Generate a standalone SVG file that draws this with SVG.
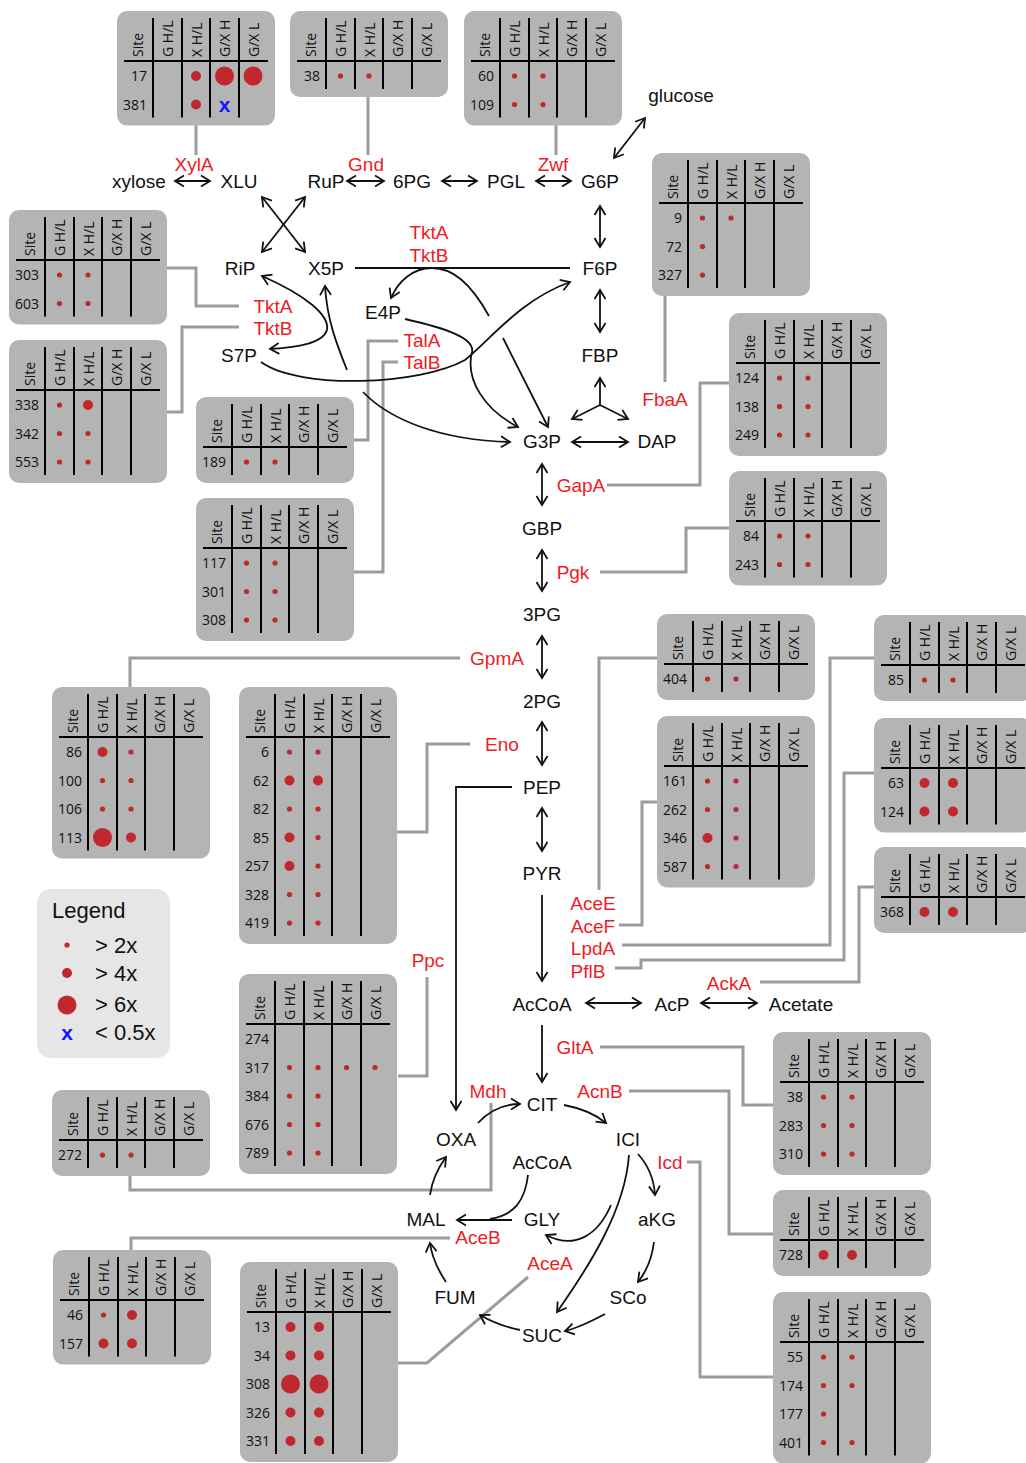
<svg xmlns="http://www.w3.org/2000/svg" width="1026" height="1463" viewBox="0 0 1026 1463">
<style>
.tb{fill:#b4b4b4}
.gl{stroke:#000;stroke-width:2;fill:none}
.th{font-family:"Open Sans",sans-serif;font-size:14px;fill:#111}
.tn{font-family:"Open Sans",sans-serif;font-size:14px;fill:#111;text-anchor:end}
.dot{fill:#c0282d}
.bx{font-family:"Liberation Sans",Arial,sans-serif;font-size:21px;font-weight:bold;fill:#1515ff;text-anchor:middle}
.m{font-family:"Liberation Sans",Arial,sans-serif;font-size:19px;fill:#111;text-anchor:middle}
.e{font-family:"Liberation Sans",Arial,sans-serif;font-size:19px;fill:#ee1c24;text-anchor:middle}
.lg{font-family:"Liberation Sans",Arial,sans-serif;font-size:22px;fill:#111}
.ln{stroke:#111;stroke-width:1.8;fill:none}
.ar{marker-end:url(#ah)}
.ab{marker-start:url(#ah);marker-end:url(#ah)}
.cn{stroke:#9c9c9c;stroke-width:3;fill:none}
</style>
<defs>
<marker id="ah" viewBox="-12 -8 14 16" refX="0" refY="0" markerWidth="14" markerHeight="16" orient="auto-start-reverse" markerUnits="userSpaceOnUse" overflow="visible">
<path d="M-9,-5.5L0,0L-9,5.5" fill="none" stroke="#111" stroke-width="1.8"/>
</marker>
</defs>
<rect width="1026" height="1463" fill="#fff"/>

<!-- connectors -->
<g id="connectors">
<g id="gray-links">
<path class="cn" d="M196,125V155"/>
<path class="cn" d="M368,97V155"/>
<path class="cn" d="M556,125V155"/>
<path class="cn" d="M665,296V382"/>
<path class="cn" d="M167,268H196V306H239"/>
<path class="cn" d="M167,412H182V327H239"/>
<path class="cn" d="M354,440H368V341H398"/>
<path class="cn" d="M354,572H383V362H398"/>
<path class="cn" d="M607,485H700V383H729"/>
<path class="cn" d="M600,572H686V528H729"/>
<path class="cn" d="M460,658H130V687"/>
<path class="cn" d="M470,744H427V832H397"/>
<path class="cn" d="M599,890V658H657"/>
<path class="cn" d="M619,925H642V802H657"/>
<path class="cn" d="M622,945H830V658H874"/>
<path class="cn" d="M615,968H641V960H844V773H874"/>
<path class="cn" d="M760,982H859V887H874"/>
<path class="cn" d="M427,977V1076H398"/>
<path class="cn" d="M600,1047H743V1105H773"/>
<path class="cn" d="M629,1091H729V1234H773"/>
<path class="cn" d="M491,1103V1190H130V1176"/>
<path class="cn" d="M687,1162H700V1377H773"/>
<path class="cn" d="M450,1238H131V1250"/>
<path class="cn" d="M528,1277L427,1363H398"/>
</g>
<g id="reactions">
<path class="ln ab" d="M175,181H210"/>
<path class="ln ab" d="M347,181H384"/>
<path class="ln ab" d="M442,181H477"/>
<path class="ln ab" d="M536,181H571"/>
<path class="ln ab" d="M614,158L645,118"/>
<path class="ln ab" d="M262,197L305,252"/>
<path class="ln ab" d="M305,197L262,252"/>
<path class="ln ab" d="M600,206V247"/>
<path class="ln ab" d="M600,290V332"/>
<path class="ln" d="M355,268H570"/>
<path class="ln ab" d="M262,276C305,295 330,315 327,330C323,343 300,347 270,349"/>
<path class="ln ar" d="M347,370C337,345 327,320 325,286"/>
<path class="ln ar" d="M489,316C470,282 452,268 432,268C412,268 398,282 391,298"/>
<path class="ln ar" d="M503,338L548,427"/>
<path class="ln ar" d="M405,319C445,328 475,338 472,352C465,380 485,410 518,427"/>
<path class="ln ar" d="M261,362C300,390 420,385 465,360C490,340 520,300 570,282"/>
<path class="ln ar" d="M363,392C390,420 440,440 510,442"/>
<path class="ln ar" d="M600,405V378"/>
<path class="ln ar" d="M600,405L572,419"/>
<path class="ln ar" d="M600,405L628,419"/>
<path class="ln ab" d="M572,442H628"/>
<path class="ln ab" d="M542,464V505"/>
<path class="ln ab" d="M542,550V591"/>
<path class="ln ab" d="M542,636V678"/>
<path class="ln ab" d="M542,722V765"/>
<path class="ln ab" d="M542,808V851"/>
<path class="ln ar" d="M542,895V981"/>
<path class="ln ar" d="M512,787H456V1110"/>
<path class="ln ab" d="M586,1003H641"/>
<path class="ln ab" d="M701,1003H757"/>
<path class="ln ar" d="M542,1025V1082"/>
<path class="ln ar" d="M478,1123C490,1110 505,1104 520,1104"/>
<path class="ln ar" d="M564,1105C580,1108 595,1114 606,1123"/>
<path class="ln ar" d="M638,1154C648,1165 654,1180 655,1195"/>
<path class="ln ar" d="M654,1242C652,1258 646,1272 638,1282"/>
<path class="ln ar" d="M605,1314C590,1322 578,1328 565,1331"/>
<path class="ln ar" d="M520,1330C505,1327 492,1322 480,1315"/>
<path class="ln ar" d="M446,1282C438,1270 432,1258 430,1243"/>
<path class="ln ar" d="M430,1195C432,1180 438,1168 446,1157"/>
<path class="ln ar" d="M629,1155C625,1210 590,1265 557,1312"/>
<path class="ln ar" d="M611,1205C598,1235 575,1250 546,1235"/>
<path class="ln" d="M528,1175C525,1200 515,1215 490,1219"/>
<path class="ln ar" d="M512,1220H457"/>
</g>
</g>

<!-- metabolites -->
<g id="metabolites">
<text class="m" x="139" y="188">xylose</text>
<text class="m" x="239" y="188">XLU</text>
<text class="m" x="326" y="188">RuP</text>
<text class="m" x="412" y="188">6PG</text>
<text class="m" x="506" y="188">PGL</text>
<text class="m" x="600" y="188">G6P</text>
<text class="m" x="681" y="102">glucose</text>
<text class="m" x="240" y="275">RiP</text>
<text class="m" x="326" y="275">X5P</text>
<text class="m" x="600" y="275">F6P</text>
<text class="m" x="383" y="319">E4P</text>
<text class="m" x="239" y="362">S7P</text>
<text class="m" x="600" y="362">FBP</text>
<text class="m" x="542" y="448">G3P</text>
<text class="m" x="657" y="448">DAP</text>
<text class="m" x="542" y="535">GBP</text>
<text class="m" x="542" y="621">3PG</text>
<text class="m" x="542" y="708">2PG</text>
<text class="m" x="542" y="794">PEP</text>
<text class="m" x="542" y="880">PYR</text>
<text class="m" x="542" y="1011">AcCoA</text>
<text class="m" x="672" y="1011">AcP</text>
<text class="m" x="801" y="1011">Acetate</text>
<text class="m" x="542" y="1111">CIT</text>
<text class="m" x="456" y="1146">OXA</text>
<text class="m" x="628" y="1146">ICI</text>
<text class="m" x="542" y="1169">AcCoA</text>
<text class="m" x="426" y="1226">MAL</text>
<text class="m" x="542" y="1226">GLY</text>
<text class="m" x="657" y="1226">aKG</text>
<text class="m" x="455" y="1304">FUM</text>
<text class="m" x="628" y="1304">SCo</text>
<text class="m" x="542" y="1342">SUC</text>
</g>

<!-- enzymes -->
<g id="enzymes">
<text class="e" x="194" y="171">XylA</text>
<text class="e" x="366" y="171">Gnd</text>
<text class="e" x="553" y="171">Zwf</text>
<text class="e" x="429" y="239">TktA</text>
<text class="e" x="429" y="262">TktB</text>
<text class="e" x="273" y="313">TktA</text>
<text class="e" x="273" y="335">TktB</text>
<text class="e" x="422" y="347">TalA</text>
<text class="e" x="422" y="369">TalB</text>
<text class="e" x="665" y="406">FbaA</text>
<text class="e" x="581" y="492">GapA</text>
<text class="e" x="573" y="579">Pgk</text>
<text class="e" x="497" y="665">GpmA</text>
<text class="e" x="502" y="751">Eno</text>
<text class="e" x="593" y="910">AceE</text>
<text class="e" x="593" y="933">AceF</text>
<text class="e" x="593" y="955">LpdA</text>
<text class="e" x="588" y="978">PflB</text>
<text class="e" x="729" y="990">AckA</text>
<text class="e" x="428" y="967">Ppc</text>
<text class="e" x="575" y="1054">GltA</text>
<text class="e" x="600" y="1098">AcnB</text>
<text class="e" x="488" y="1098">Mdh</text>
<text class="e" x="670" y="1169">Icd</text>
<text class="e" x="478" y="1244">AceB</text>
<text class="e" x="550" y="1270">AceA</text>
</g>

<!-- legend -->
<g id="legend">
<rect x="37" y="889" width="133" height="169" rx="14" fill="#e6e6e6"/>
<text class="lg" x="52" y="918">Legend</text>
<circle class="dot" cx="67" cy="945" r="2.6"/>
<circle class="dot" cx="67" cy="973" r="5"/>
<circle class="dot" cx="67" cy="1005" r="9.5"/>
<text class="bx" x="67" y="1040">x</text>
<text class="lg" x="95" y="953">&gt; 2x</text>
<text class="lg" x="95" y="981">&gt; 4x</text>
<text class="lg" x="95" y="1012">&gt; 6x</text>
<text class="lg" x="95" y="1040">&lt; 0.5x</text>
</g>

<!-- tables -->
<g id="t-xyla" transform="translate(117,11)">
<rect class="tb" width="158" height="114.5" rx="10"/>
<path class="gl" d="M7,50H151M36,7V106.5M65,7V106.5M93,7V106.5M122,7V106.5"/>
<text class="th" transform="translate(26,46) rotate(-90)">Site</text><text class="th" transform="translate(56,46) rotate(-90)">G H/L</text><text class="th" transform="translate(84.5,46) rotate(-90)">X H/L</text><text class="th" transform="translate(113,46) rotate(-90)">G/X H</text><text class="th" transform="translate(141.5,46) rotate(-90)">G/X L</text>
<text class="tn" x="30" y="70">17</text><text class="tn" x="30" y="98.5">381</text>
<circle class="dot" cx="79" cy="65" r="5"/><circle class="dot" cx="107.5" cy="65" r="9.5"/><circle class="dot" cx="136" cy="65" r="9.5"/>
<circle class="dot" cx="79" cy="93.5" r="5"/><text class="bx" x="107.5" y="100.5">x</text>
</g>

<g id="t-gnd" transform="translate(290,11)">
<rect class="tb" width="158" height="86" rx="10"/>
<path class="gl" d="M7,50H151M36,7V78M65,7V78M93,7V78M122,7V78"/>
<text class="th" transform="translate(26,46) rotate(-90)">Site</text><text class="th" transform="translate(56,46) rotate(-90)">G H/L</text><text class="th" transform="translate(84.5,46) rotate(-90)">X H/L</text><text class="th" transform="translate(113,46) rotate(-90)">G/X H</text><text class="th" transform="translate(141.5,46) rotate(-90)">G/X L</text>
<text class="tn" x="30" y="70">38</text>
<circle class="dot" cx="50.5" cy="65" r="2.6"/><circle class="dot" cx="79" cy="65" r="2.6"/>
</g>

<g id="t-zwf" transform="translate(464,11)">
<rect class="tb" width="158" height="114.5" rx="10"/>
<path class="gl" d="M7,50H151M36,7V106.5M65,7V106.5M93,7V106.5M122,7V106.5"/>
<text class="th" transform="translate(26,46) rotate(-90)">Site</text><text class="th" transform="translate(56,46) rotate(-90)">G H/L</text><text class="th" transform="translate(84.5,46) rotate(-90)">X H/L</text><text class="th" transform="translate(113,46) rotate(-90)">G/X H</text><text class="th" transform="translate(141.5,46) rotate(-90)">G/X L</text>
<text class="tn" x="30" y="70">60</text><text class="tn" x="30" y="98.5">109</text>
<circle class="dot" cx="50.5" cy="65" r="2.6"/><circle class="dot" cx="79" cy="65" r="2.6"/>
<circle class="dot" cx="50.5" cy="93.5" r="2.6"/><circle class="dot" cx="79" cy="93.5" r="2.6"/>
</g>

<g id="t-fbaa" transform="translate(652,153)">
<rect class="tb" width="158" height="143" rx="10"/>
<path class="gl" d="M7,50H151M36,7V135M65,7V135M93,7V135M122,7V135"/>
<text class="th" transform="translate(26,46) rotate(-90)">Site</text><text class="th" transform="translate(56,46) rotate(-90)">G H/L</text><text class="th" transform="translate(84.5,46) rotate(-90)">X H/L</text><text class="th" transform="translate(113,46) rotate(-90)">G/X H</text><text class="th" transform="translate(141.5,46) rotate(-90)">G/X L</text>
<text class="tn" x="30" y="70">9</text><text class="tn" x="30" y="98.5">72</text><text class="tn" x="30" y="127">327</text>
<circle class="dot" cx="50.5" cy="65" r="2.6"/><circle class="dot" cx="79" cy="65" r="2.6"/>
<circle class="dot" cx="50.5" cy="93.5" r="2.6"/>
<circle class="dot" cx="50.5" cy="122" r="2.6"/>
</g>

<g id="t-tkt1" transform="translate(9,210)">
<rect class="tb" width="158" height="114.5" rx="10"/>
<path class="gl" d="M7,50H151M36,7V106.5M65,7V106.5M93,7V106.5M122,7V106.5"/>
<text class="th" transform="translate(26,46) rotate(-90)">Site</text><text class="th" transform="translate(56,46) rotate(-90)">G H/L</text><text class="th" transform="translate(84.5,46) rotate(-90)">X H/L</text><text class="th" transform="translate(113,46) rotate(-90)">G/X H</text><text class="th" transform="translate(141.5,46) rotate(-90)">G/X L</text>
<text class="tn" x="30" y="70">303</text><text class="tn" x="30" y="98.5">603</text>
<circle class="dot" cx="50.5" cy="65" r="2.6"/><circle class="dot" cx="79" cy="65" r="2.6"/>
<circle class="dot" cx="50.5" cy="93.5" r="2.6"/><circle class="dot" cx="79" cy="93.5" r="2.6"/>
</g>

<g id="t-tkt2" transform="translate(9,340)">
<rect class="tb" width="158" height="143" rx="10"/>
<path class="gl" d="M7,50H151M36,7V135M65,7V135M93,7V135M122,7V135"/>
<text class="th" transform="translate(26,46) rotate(-90)">Site</text><text class="th" transform="translate(56,46) rotate(-90)">G H/L</text><text class="th" transform="translate(84.5,46) rotate(-90)">X H/L</text><text class="th" transform="translate(113,46) rotate(-90)">G/X H</text><text class="th" transform="translate(141.5,46) rotate(-90)">G/X L</text>
<text class="tn" x="30" y="70">338</text><text class="tn" x="30" y="98.5">342</text><text class="tn" x="30" y="127">553</text>
<circle class="dot" cx="50.5" cy="65" r="2.6"/><circle class="dot" cx="79" cy="65" r="5"/>
<circle class="dot" cx="50.5" cy="93.5" r="2.6"/><circle class="dot" cx="79" cy="93.5" r="2.6"/>
<circle class="dot" cx="50.5" cy="122" r="2.6"/><circle class="dot" cx="79" cy="122" r="2.6"/>
</g>

<g id="t-tal1" transform="translate(196,397)">
<rect class="tb" width="158" height="86" rx="10"/>
<path class="gl" d="M7,50H151M36,7V78M65,7V78M93,7V78M122,7V78"/>
<text class="th" transform="translate(26,46) rotate(-90)">Site</text><text class="th" transform="translate(56,46) rotate(-90)">G H/L</text><text class="th" transform="translate(84.5,46) rotate(-90)">X H/L</text><text class="th" transform="translate(113,46) rotate(-90)">G/X H</text><text class="th" transform="translate(141.5,46) rotate(-90)">G/X L</text>
<text class="tn" x="30" y="70">189</text>
<circle class="dot" cx="50.5" cy="65" r="2.6"/><circle class="dot" cx="79" cy="65" r="2.6"/>
</g>

<g id="t-tal2" transform="translate(196,498)">
<rect class="tb" width="158" height="143" rx="10"/>
<path class="gl" d="M7,50H151M36,7V135M65,7V135M93,7V135M122,7V135"/>
<text class="th" transform="translate(26,46) rotate(-90)">Site</text><text class="th" transform="translate(56,46) rotate(-90)">G H/L</text><text class="th" transform="translate(84.5,46) rotate(-90)">X H/L</text><text class="th" transform="translate(113,46) rotate(-90)">G/X H</text><text class="th" transform="translate(141.5,46) rotate(-90)">G/X L</text>
<text class="tn" x="30" y="70">117</text><text class="tn" x="30" y="98.5">301</text><text class="tn" x="30" y="127">308</text>
<circle class="dot" cx="50.5" cy="65" r="2.6"/><circle class="dot" cx="79" cy="65" r="2.6"/>
<circle class="dot" cx="50.5" cy="93.5" r="2.6"/><circle class="dot" cx="79" cy="93.5" r="2.6"/>
<circle class="dot" cx="50.5" cy="122" r="2.6"/><circle class="dot" cx="79" cy="122" r="2.6"/>
</g>

<g id="t-gapa" transform="translate(729,313)">
<rect class="tb" width="158" height="143" rx="10"/>
<path class="gl" d="M7,50H151M36,7V135M65,7V135M93,7V135M122,7V135"/>
<text class="th" transform="translate(26,46) rotate(-90)">Site</text><text class="th" transform="translate(56,46) rotate(-90)">G H/L</text><text class="th" transform="translate(84.5,46) rotate(-90)">X H/L</text><text class="th" transform="translate(113,46) rotate(-90)">G/X H</text><text class="th" transform="translate(141.5,46) rotate(-90)">G/X L</text>
<text class="tn" x="30" y="70">124</text><text class="tn" x="30" y="98.5">138</text><text class="tn" x="30" y="127">249</text>
<circle class="dot" cx="50.5" cy="65" r="2.6"/><circle class="dot" cx="79" cy="65" r="2.6"/>
<circle class="dot" cx="50.5" cy="93.5" r="2.6"/><circle class="dot" cx="79" cy="93.5" r="2.6"/>
<circle class="dot" cx="50.5" cy="122" r="2.6"/><circle class="dot" cx="79" cy="122" r="2.6"/>
</g>

<g id="t-pgk" transform="translate(729,471)">
<rect class="tb" width="158" height="114.5" rx="10"/>
<path class="gl" d="M7,50H151M36,7V106.5M65,7V106.5M93,7V106.5M122,7V106.5"/>
<text class="th" transform="translate(26,46) rotate(-90)">Site</text><text class="th" transform="translate(56,46) rotate(-90)">G H/L</text><text class="th" transform="translate(84.5,46) rotate(-90)">X H/L</text><text class="th" transform="translate(113,46) rotate(-90)">G/X H</text><text class="th" transform="translate(141.5,46) rotate(-90)">G/X L</text>
<text class="tn" x="30" y="70">84</text><text class="tn" x="30" y="98.5">243</text>
<circle class="dot" cx="50.5" cy="65" r="2.6"/><circle class="dot" cx="79" cy="65" r="2.6"/>
<circle class="dot" cx="50.5" cy="93.5" r="2.6"/><circle class="dot" cx="79" cy="93.5" r="2.6"/>
</g>

<g id="t-gpma" transform="translate(52,687)">
<rect class="tb" width="158" height="171.5" rx="10"/>
<path class="gl" d="M7,50H151M36,7V163.5M65,7V163.5M93,7V163.5M122,7V163.5"/>
<text class="th" transform="translate(26,46) rotate(-90)">Site</text><text class="th" transform="translate(56,46) rotate(-90)">G H/L</text><text class="th" transform="translate(84.5,46) rotate(-90)">X H/L</text><text class="th" transform="translate(113,46) rotate(-90)">G/X H</text><text class="th" transform="translate(141.5,46) rotate(-90)">G/X L</text>
<text class="tn" x="30" y="70">86</text><text class="tn" x="30" y="98.5">100</text><text class="tn" x="30" y="127">106</text><text class="tn" x="30" y="155.5">113</text>
<circle class="dot" cx="50.5" cy="65" r="5"/><circle class="dot" cx="79" cy="65" r="2.6"/>
<circle class="dot" cx="50.5" cy="93.5" r="2.6"/><circle class="dot" cx="79" cy="93.5" r="2.6"/>
<circle class="dot" cx="50.5" cy="122" r="2.6"/><circle class="dot" cx="79" cy="122" r="2.6"/>
<circle class="dot" cx="50.5" cy="150.5" r="9.5"/><circle class="dot" cx="79" cy="150.5" r="5"/>
</g>

<g id="t-eno" transform="translate(239,687)">
<rect class="tb" width="158" height="257" rx="10"/>
<path class="gl" d="M7,50H151M36,7V249M65,7V249M93,7V249M122,7V249"/>
<text class="th" transform="translate(26,46) rotate(-90)">Site</text><text class="th" transform="translate(56,46) rotate(-90)">G H/L</text><text class="th" transform="translate(84.5,46) rotate(-90)">X H/L</text><text class="th" transform="translate(113,46) rotate(-90)">G/X H</text><text class="th" transform="translate(141.5,46) rotate(-90)">G/X L</text>
<text class="tn" x="30" y="70">6</text><text class="tn" x="30" y="98.5">62</text><text class="tn" x="30" y="127">82</text><text class="tn" x="30" y="155.5">85</text><text class="tn" x="30" y="184">257</text><text class="tn" x="30" y="212.5">328</text><text class="tn" x="30" y="241">419</text>
<circle class="dot" cx="50.5" cy="65" r="2.6"/><circle class="dot" cx="79" cy="65" r="2.6"/>
<circle class="dot" cx="50.5" cy="93.5" r="5"/><circle class="dot" cx="79" cy="93.5" r="5"/>
<circle class="dot" cx="50.5" cy="122" r="2.6"/><circle class="dot" cx="79" cy="122" r="2.6"/>
<circle class="dot" cx="50.5" cy="150.5" r="5"/><circle class="dot" cx="79" cy="150.5" r="2.6"/>
<circle class="dot" cx="50.5" cy="179" r="5"/><circle class="dot" cx="79" cy="179" r="2.6"/>
<circle class="dot" cx="50.5" cy="207.5" r="2.6"/><circle class="dot" cx="79" cy="207.5" r="2.6"/>
<circle class="dot" cx="50.5" cy="236" r="2.6"/><circle class="dot" cx="79" cy="236" r="2.6"/>
</g>

<g id="t-acee" transform="translate(657,614)">
<rect class="tb" width="158" height="86" rx="10"/>
<path class="gl" d="M7,50H151M36,7V78M65,7V78M93,7V78M122,7V78"/>
<text class="th" transform="translate(26,46) rotate(-90)">Site</text><text class="th" transform="translate(56,46) rotate(-90)">G H/L</text><text class="th" transform="translate(84.5,46) rotate(-90)">X H/L</text><text class="th" transform="translate(113,46) rotate(-90)">G/X H</text><text class="th" transform="translate(141.5,46) rotate(-90)">G/X L</text>
<text class="tn" x="30" y="70">404</text>
<circle class="dot" cx="50.5" cy="65" r="2.6"/><circle class="dot" cx="79" cy="65" r="2.6"/>
</g>

<g id="t-acef" transform="translate(657,716)">
<rect class="tb" width="158" height="171.5" rx="10"/>
<path class="gl" d="M7,50H151M36,7V163.5M65,7V163.5M93,7V163.5M122,7V163.5"/>
<text class="th" transform="translate(26,46) rotate(-90)">Site</text><text class="th" transform="translate(56,46) rotate(-90)">G H/L</text><text class="th" transform="translate(84.5,46) rotate(-90)">X H/L</text><text class="th" transform="translate(113,46) rotate(-90)">G/X H</text><text class="th" transform="translate(141.5,46) rotate(-90)">G/X L</text>
<text class="tn" x="30" y="70">161</text><text class="tn" x="30" y="98.5">262</text><text class="tn" x="30" y="127">346</text><text class="tn" x="30" y="155.5">587</text>
<circle class="dot" cx="50.5" cy="65" r="2.6"/><circle class="dot" cx="79" cy="65" r="2.6"/>
<circle class="dot" cx="50.5" cy="93.5" r="2.6"/><circle class="dot" cx="79" cy="93.5" r="2.6"/>
<circle class="dot" cx="50.5" cy="122" r="5"/><circle class="dot" cx="79" cy="122" r="2.6"/>
<circle class="dot" cx="50.5" cy="150.5" r="2.6"/><circle class="dot" cx="79" cy="150.5" r="2.6"/>
</g>

<g id="t-lpda" transform="translate(874,615)">
<rect class="tb" width="158" height="86" rx="10"/>
<path class="gl" d="M7,50H151M36,7V78M65,7V78M93,7V78M122,7V78"/>
<text class="th" transform="translate(26,46) rotate(-90)">Site</text><text class="th" transform="translate(56,46) rotate(-90)">G H/L</text><text class="th" transform="translate(84.5,46) rotate(-90)">X H/L</text><text class="th" transform="translate(113,46) rotate(-90)">G/X H</text><text class="th" transform="translate(141.5,46) rotate(-90)">G/X L</text>
<text class="tn" x="30" y="70">85</text>
<circle class="dot" cx="50.5" cy="65" r="2.6"/><circle class="dot" cx="79" cy="65" r="2.6"/>
</g>

<g id="t-pflb" transform="translate(874,718)">
<rect class="tb" width="158" height="114.5" rx="10"/>
<path class="gl" d="M7,50H151M36,7V106.5M65,7V106.5M93,7V106.5M122,7V106.5"/>
<text class="th" transform="translate(26,46) rotate(-90)">Site</text><text class="th" transform="translate(56,46) rotate(-90)">G H/L</text><text class="th" transform="translate(84.5,46) rotate(-90)">X H/L</text><text class="th" transform="translate(113,46) rotate(-90)">G/X H</text><text class="th" transform="translate(141.5,46) rotate(-90)">G/X L</text>
<text class="tn" x="30" y="70">63</text><text class="tn" x="30" y="98.5">124</text>
<circle class="dot" cx="50.5" cy="65" r="5"/><circle class="dot" cx="79" cy="65" r="5"/>
<circle class="dot" cx="50.5" cy="93.5" r="5"/><circle class="dot" cx="79" cy="93.5" r="5"/>
</g>

<g id="t-acka" transform="translate(874,847)">
<rect class="tb" width="158" height="86" rx="10"/>
<path class="gl" d="M7,50H151M36,7V78M65,7V78M93,7V78M122,7V78"/>
<text class="th" transform="translate(26,46) rotate(-90)">Site</text><text class="th" transform="translate(56,46) rotate(-90)">G H/L</text><text class="th" transform="translate(84.5,46) rotate(-90)">X H/L</text><text class="th" transform="translate(113,46) rotate(-90)">G/X H</text><text class="th" transform="translate(141.5,46) rotate(-90)">G/X L</text>
<text class="tn" x="30" y="70">368</text>
<circle class="dot" cx="50.5" cy="65" r="5"/><circle class="dot" cx="79" cy="65" r="5"/>
</g>

<g id="t-ppc" transform="translate(239,974)">
<rect class="tb" width="158" height="200" rx="10"/>
<path class="gl" d="M7,50H151M36,7V192M65,7V192M93,7V192M122,7V192"/>
<text class="th" transform="translate(26,46) rotate(-90)">Site</text><text class="th" transform="translate(56,46) rotate(-90)">G H/L</text><text class="th" transform="translate(84.5,46) rotate(-90)">X H/L</text><text class="th" transform="translate(113,46) rotate(-90)">G/X H</text><text class="th" transform="translate(141.5,46) rotate(-90)">G/X L</text>
<text class="tn" x="30" y="70">274</text><text class="tn" x="30" y="98.5">317</text><text class="tn" x="30" y="127">384</text><text class="tn" x="30" y="155.5">676</text><text class="tn" x="30" y="184">789</text>
<circle class="dot" cx="50.5" cy="93.5" r="2.6"/><circle class="dot" cx="79" cy="93.5" r="2.6"/><circle class="dot" cx="107.5" cy="93.5" r="2.6"/><circle class="dot" cx="136" cy="93.5" r="2.6"/>
<circle class="dot" cx="50.5" cy="122" r="2.6"/><circle class="dot" cx="79" cy="122" r="2.6"/>
<circle class="dot" cx="50.5" cy="150.5" r="2.6"/><circle class="dot" cx="79" cy="150.5" r="2.6"/>
<circle class="dot" cx="50.5" cy="179" r="2.6"/><circle class="dot" cx="79" cy="179" r="2.6"/>
</g>

<g id="t-glta" transform="translate(773,1032)">
<rect class="tb" width="158" height="143" rx="10"/>
<path class="gl" d="M7,50H151M36,7V135M65,7V135M93,7V135M122,7V135"/>
<text class="th" transform="translate(26,46) rotate(-90)">Site</text><text class="th" transform="translate(56,46) rotate(-90)">G H/L</text><text class="th" transform="translate(84.5,46) rotate(-90)">X H/L</text><text class="th" transform="translate(113,46) rotate(-90)">G/X H</text><text class="th" transform="translate(141.5,46) rotate(-90)">G/X L</text>
<text class="tn" x="30" y="70">38</text><text class="tn" x="30" y="98.5">283</text><text class="tn" x="30" y="127">310</text>
<circle class="dot" cx="50.5" cy="65" r="2.6"/><circle class="dot" cx="79" cy="65" r="2.6"/>
<circle class="dot" cx="50.5" cy="93.5" r="2.6"/><circle class="dot" cx="79" cy="93.5" r="2.6"/>
<circle class="dot" cx="50.5" cy="122" r="2.6"/><circle class="dot" cx="79" cy="122" r="2.6"/>
</g>

<g id="t-acnb" transform="translate(773,1190)">
<rect class="tb" width="158" height="86" rx="10"/>
<path class="gl" d="M7,50H151M36,7V78M65,7V78M93,7V78M122,7V78"/>
<text class="th" transform="translate(26,46) rotate(-90)">Site</text><text class="th" transform="translate(56,46) rotate(-90)">G H/L</text><text class="th" transform="translate(84.5,46) rotate(-90)">X H/L</text><text class="th" transform="translate(113,46) rotate(-90)">G/X H</text><text class="th" transform="translate(141.5,46) rotate(-90)">G/X L</text>
<text class="tn" x="30" y="70">728</text>
<circle class="dot" cx="50.5" cy="65" r="5"/><circle class="dot" cx="79" cy="65" r="5"/>
</g>

<g id="t-mdh" transform="translate(52,1090)">
<rect class="tb" width="158" height="86" rx="10"/>
<path class="gl" d="M7,50H151M36,7V78M65,7V78M93,7V78M122,7V78"/>
<text class="th" transform="translate(26,46) rotate(-90)">Site</text><text class="th" transform="translate(56,46) rotate(-90)">G H/L</text><text class="th" transform="translate(84.5,46) rotate(-90)">X H/L</text><text class="th" transform="translate(113,46) rotate(-90)">G/X H</text><text class="th" transform="translate(141.5,46) rotate(-90)">G/X L</text>
<text class="tn" x="30" y="70">272</text>
<circle class="dot" cx="50.5" cy="65" r="2.6"/><circle class="dot" cx="79" cy="65" r="2.6"/>
</g>

<g id="t-icd" transform="translate(773,1292)">
<rect class="tb" width="158" height="171.5" rx="10"/>
<path class="gl" d="M7,50H151M36,7V163.5M65,7V163.5M93,7V163.5M122,7V163.5"/>
<text class="th" transform="translate(26,46) rotate(-90)">Site</text><text class="th" transform="translate(56,46) rotate(-90)">G H/L</text><text class="th" transform="translate(84.5,46) rotate(-90)">X H/L</text><text class="th" transform="translate(113,46) rotate(-90)">G/X H</text><text class="th" transform="translate(141.5,46) rotate(-90)">G/X L</text>
<text class="tn" x="30" y="70">55</text><text class="tn" x="30" y="98.5">174</text><text class="tn" x="30" y="127">177</text><text class="tn" x="30" y="155.5">401</text>
<circle class="dot" cx="50.5" cy="65" r="2.6"/><circle class="dot" cx="79" cy="65" r="2.6"/>
<circle class="dot" cx="50.5" cy="93.5" r="2.6"/><circle class="dot" cx="79" cy="93.5" r="2.6"/>
<circle class="dot" cx="50.5" cy="122" r="2.6"/>
<circle class="dot" cx="50.5" cy="150.5" r="2.6"/><circle class="dot" cx="79" cy="150.5" r="2.6"/>
</g>

<g id="t-aceb" transform="translate(53,1250)">
<rect class="tb" width="158" height="114.5" rx="10"/>
<path class="gl" d="M7,50H151M36,7V106.5M65,7V106.5M93,7V106.5M122,7V106.5"/>
<text class="th" transform="translate(26,46) rotate(-90)">Site</text><text class="th" transform="translate(56,46) rotate(-90)">G H/L</text><text class="th" transform="translate(84.5,46) rotate(-90)">X H/L</text><text class="th" transform="translate(113,46) rotate(-90)">G/X H</text><text class="th" transform="translate(141.5,46) rotate(-90)">G/X L</text>
<text class="tn" x="30" y="70">46</text><text class="tn" x="30" y="98.5">157</text>
<circle class="dot" cx="50.5" cy="65" r="2.6"/><circle class="dot" cx="79" cy="65" r="5"/>
<circle class="dot" cx="50.5" cy="93.5" r="5"/><circle class="dot" cx="79" cy="93.5" r="5"/>
</g>

<g id="t-acea" transform="translate(240,1262)">
<rect class="tb" width="158" height="200" rx="10"/>
<path class="gl" d="M7,50H151M36,7V192M65,7V192M93,7V192M122,7V192"/>
<text class="th" transform="translate(26,46) rotate(-90)">Site</text><text class="th" transform="translate(56,46) rotate(-90)">G H/L</text><text class="th" transform="translate(84.5,46) rotate(-90)">X H/L</text><text class="th" transform="translate(113,46) rotate(-90)">G/X H</text><text class="th" transform="translate(141.5,46) rotate(-90)">G/X L</text>
<text class="tn" x="30" y="70">13</text><text class="tn" x="30" y="98.5">34</text><text class="tn" x="30" y="127">308</text><text class="tn" x="30" y="155.5">326</text><text class="tn" x="30" y="184">331</text>
<circle class="dot" cx="50.5" cy="65" r="5"/><circle class="dot" cx="79" cy="65" r="5"/>
<circle class="dot" cx="50.5" cy="93.5" r="5"/><circle class="dot" cx="79" cy="93.5" r="5"/>
<circle class="dot" cx="50.5" cy="122" r="9.5"/><circle class="dot" cx="79" cy="122" r="9.5"/>
<circle class="dot" cx="50.5" cy="150.5" r="5"/><circle class="dot" cx="79" cy="150.5" r="5"/>
<circle class="dot" cx="50.5" cy="179" r="5"/><circle class="dot" cx="79" cy="179" r="5"/>
</g>
</svg>
